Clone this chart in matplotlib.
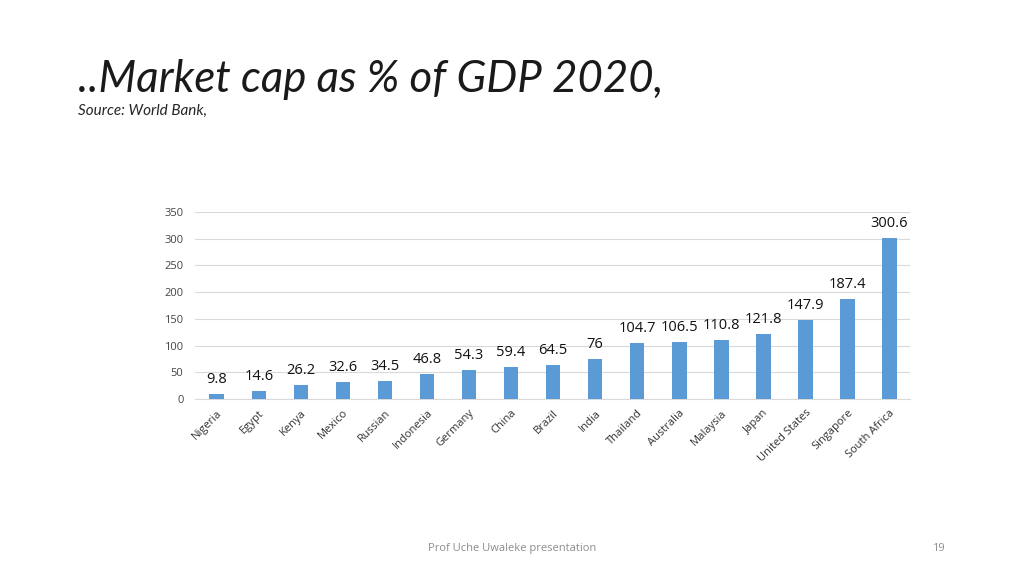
import matplotlib.pyplot as plt

countries = ["Nigeria", "Egypt", "Kenya", "Mexico", "Russian", "Indonesia", "Germany",
             "China", "Brazil", "India", "Thailand", "Australia", "Malaysia", "Japan",
             "United States", "Singapore", "South Africa"]
market_cap = [9.8, 14.6, 26.2, 32.6, 34.5, 46.8, 54.3, 59.4, 64.5, 76,
              104.7, 106.5, 110.8, 121.8, 147.9, 187.4, 300.6]
yticks = [0, 50, 100, 150, 200, 250, 300, 350]

fig = plt.figure(figsize=(10.24, 5.76), dpi=100)
fig.patch.set_facecolor("white")

# titel slide
fig.text(0.076, 0.84, "..Market cap as % of GDP 2020,", fontsize=31.5, style="italic",
         family="Lato", fontweight="normal", color="#1a1a1a", va="baseline")
fig.text(0.076, 0.80, "Source: World Bank,", fontsize=11, style="italic",
         family="Lato", fontweight="normal", color="#262626", va="baseline")

ax = fig.add_axes([0.190, 0.307, 0.699, 0.325])
x = range(len(countries))
bars = ax.bar(x, market_cap, width=0.35, color="#5B9BD5", zorder=3)

for xi, v in zip(x, market_cap):
    label = f"{v:g}"
    ax.annotate(label, (xi, v), xytext=(0, 5), textcoords="offset points",
                ha="center", va="bottom", fontsize=10.5, family="Open Sans", color="#111111")

ax.set_ylim(0, 350)
ax.set_xlim(-0.53, len(countries) - 0.5)
ax.set_yticks(yticks)
ax.set_yticklabels([str(t) for t in yticks], fontsize=8, family="Open Sans", color="#444444")
ax.set_xticks(list(x))
ax.set_xticklabels(countries, rotation=45, ha="right", rotation_mode="anchor",
                   fontsize=8, family="Open Sans", color="#333333")
ax.tick_params(length=0, pad=8)
ax.tick_params(axis="x", pad=6)
ax.grid(axis="y", color="#d9d9d9", linewidth=0.8, zorder=0)
for s in ["top", "right", "left"]:
    ax.spines[s].set_visible(False)
ax.spines["bottom"].set_color("#d9d9d9")

fig.text(0.5, 0.047, "Prof Uche Uwaleke presentation", ha="center", va="center",
         fontsize=8, family="Open Sans", color="#8c8c8c")
fig.text(0.916, 0.047, "19", ha="center", va="center",
         fontsize=8, family="Open Sans", color="#8c8c8c")

fig.savefig("out.png", dpi=100)
